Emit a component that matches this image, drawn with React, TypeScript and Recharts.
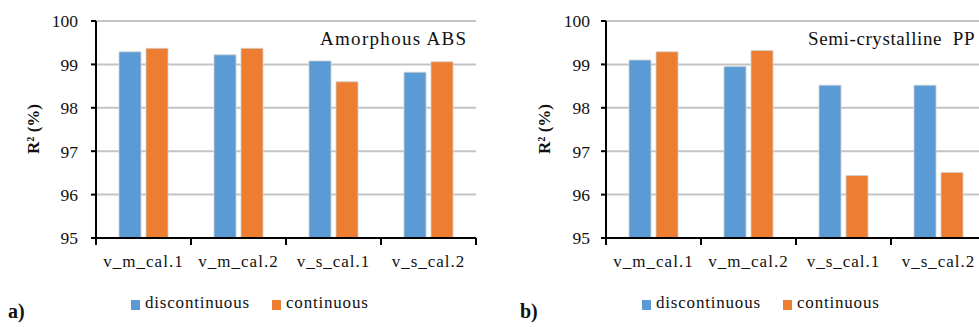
import React from 'react';
import { BarChart, Bar, XAxis, YAxis, CartesianGrid } from 'recharts';

const categories = ['v_m_cal.1', 'v_m_cal.2', 'v_s_cal.1', 'v_s_cal.2'];
const seriesNames = ['discontinuous', 'continuous'];
const absDiscontinuous = [99.29, 99.22, 99.08, 98.82];
const absContinuous = [99.37, 99.37, 98.6, 99.06];
const ppDiscontinuous = [99.1, 98.95, 98.52, 98.52];
const ppContinuous = [99.29, 99.32, 96.44, 96.51];
const yTicks = [95, 96, 97, 98, 99, 100];

const BLUE = '#5b9bd5';
const ORANGE = '#ed7d31';
const FONT = "'Liberation Serif', 'DejaVu Serif', serif";
const TEXT = '#111';

const toRows = (a: number[], b: number[]) =>
    categories.map((c, i) => ({ name: c, discontinuous: a[i], continuous: b[i] }));

// band width of one category (plot width 380 / 4)
const BAND = 95;

const CategoryTick = (props: any) => {
    const { x, y, payload, index } = props;
    const axisY = y - 17;
    return (
        <g>
            <line x1={x - BAND / 2} x2={x - BAND / 2} y1={axisY} y2={axisY + 7} stroke="#000" strokeWidth={2} />
            {index === categories.length - 1 && (
                <line x1={x + BAND / 2} x2={x + BAND / 2} y1={axisY} y2={axisY + 7} stroke="#000" strokeWidth={2} />
            )}
            <text x={x} y={y} dy="0.71em" textAnchor="middle" style={{ fontFamily: FONT, fontSize: 17 }} letterSpacing={1} fill={TEXT}>
                {payload.value}
            </text>
        </g>
    );
};

function Panel({ rows, axisWidth, width, labelX, gap }: { rows: any[]; axisWidth: number; width: number; labelX: number; gap: number }) {
    const tickRight = axisWidth - gap;
    return (
        <BarChart
            width={width}
            height={327}
            data={rows}
            margin={{ top: 21, right: width - axisWidth - 380, left: 0, bottom: 49 }}
            barSize={22}
            barGap={5}
        >
            <CartesianGrid vertical={false} stroke="#c4c4c4" strokeWidth={2} />
            <XAxis
                dataKey="name"
                height={40}
                axisLine={{ stroke: '#000', strokeWidth: 2 }}
                tickLine={false}
                tickSize={0}
                tickMargin={17}
                interval={0}
                tick={<CategoryTick />}
            />
            <YAxis
                width={axisWidth}
                domain={[95, 100]}
                ticks={yTicks}
                interval={0}
                axisLine={{ stroke: '#000', strokeWidth: 2 }}
                tickLine={{ stroke: '#000', strokeWidth: 2 }}
                tickSize={5}
                tick={(p: any) => (
                    <text key={p.index} x={tickRight} y={p.y} dy="0.36em" textAnchor="end" style={{ fontFamily: FONT, fontSize: 17.5 }} fill={TEXT}>
                        {p.payload.value}
                    </text>
                )}
                label={{
                    content: () => (
                        <text
                            x={labelX}
                            y={129}
                            transform={`rotate(-90 ${labelX} 129)`}
                            textAnchor="middle"
                            dominantBaseline="central"
                            style={{ fontFamily: FONT, fontSize: 17, fontWeight: 'bold' }}
                            fill={TEXT}
                        >
                            R² (%)
                        </text>
                    ),
                }}
            />
            <Bar dataKey="discontinuous" fill={BLUE} stroke="#d0d0d0" strokeWidth={0.8} isAnimationActive={false} />
            <Bar dataKey="continuous" fill={ORANGE} stroke="#d0d0d0" strokeWidth={0.8} isAnimationActive={false} />
        </BarChart>
    );
}

const abs = (left: number, top: number, extra: React.CSSProperties = {}): React.CSSProperties => ({
    position: 'absolute',
    left,
    top,
    fontFamily: FONT,
    color: TEXT,
    whiteSpace: 'nowrap',
    ...extra,
});

function LegendRow({ left }: { left: number }) {
    return (
        <>
            <div style={abs(left, 300, { width: 9, height: 10, background: BLUE })} />
            <div style={abs(left + 14, 293, { fontSize: 17, letterSpacing: 0.8 })}>{seriesNames[0]}</div>
            <div style={abs(left + 141, 300, { width: 9, height: 10, background: ORANGE })} />
            <div style={abs(left + 155, 293, { fontSize: 17, letterSpacing: 0.8 })}>{seriesNames[1]}</div>
        </>
    );
}

export default function App() {
    return (
        <div style={{ position: 'fixed', left: 0, top: 0, width: 979, height: 327, background: '#fff', overflow: 'hidden' }}>
            <div style={abs(0, 0)}>
                <Panel rows={toRows(absDiscontinuous, absContinuous)} axisWidth={96} width={490} labelX={33} gap={18} />
            </div>
            <div style={abs(490, 0)}>
                <Panel rows={toRows(ppDiscontinuous, ppContinuous)} axisWidth={116} width={510} labelX={54} gap={16} />
            </div>
            <div style={abs(320, 28, { fontSize: 19, letterSpacing: 1.3 })}>Amorphous ABS</div>
            <div style={abs(808, 28, { fontSize: 19, letterSpacing: 0.6 })}>Semi-crystalline&nbsp; PP</div>
            <LegendRow left={131} />
            <LegendRow left={642} />
            <div style={abs(8, 300, { fontSize: 20, fontWeight: 'bold' })}>a)</div>
            <div style={abs(520, 300, { fontSize: 20, fontWeight: 'bold' })}>b)</div>
        </div>
    );
}
